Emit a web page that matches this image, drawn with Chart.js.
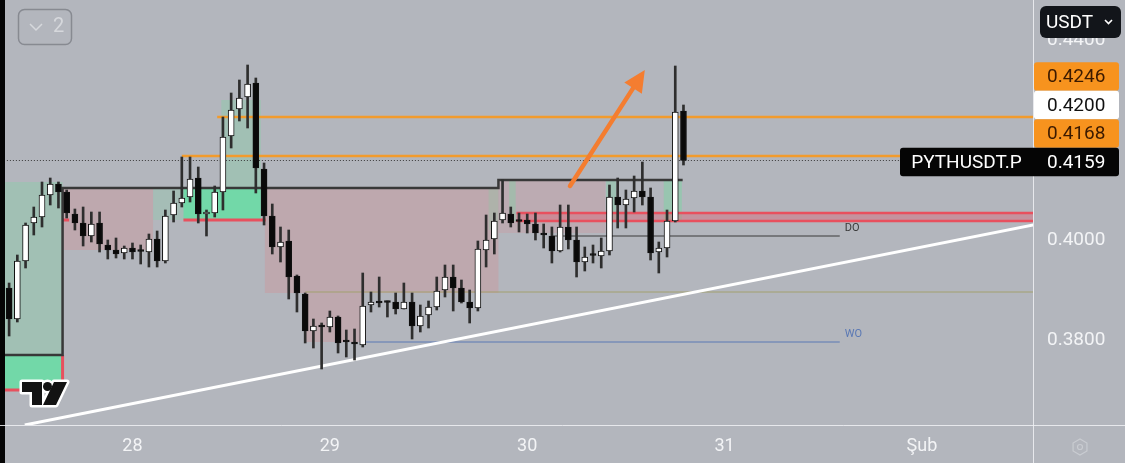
<!DOCTYPE html>
<html>
<head>
<meta charset="utf-8">
<script src="https://cdn.jsdelivr.net/npm/chart.js"></script>
<style>
  html, body { margin: 0; padding: 0; background: #b3b6bd; overflow: hidden; }
</style>
</head>
<body>
<canvas id="chart" width="1125" height="463"></canvas>
<script>
// PYTHUSDT.P, 1h candles from 27 Jan 09:00
const opens = [0.3904,0.3842,0.3958,0.4034,0.4046,0.4090,0.4112,0.4096,0.4052,0.4034,
  0.4008,0.4034,0.3990,0.3980,0.3974,0.3984,0.3978,0.3976,0.4002,0.3958,
  0.4050,0.4074,0.4086,0.4124,0.4052,0.4054,0.4096,0.4208,0.4262,0.4286,
  0.4314,0.4142,0.4048,0.3986,0.3998,0.3928,0.3892,0.3818,0.3828,0.3826,
  0.3846,0.3798,0.3796,0.3790,0.3870,0.3878,0.3876,0.3876,0.3862,0.3876,
  0.3828,0.3850,0.3866,0.3900,0.3926,0.3904,0.3876,0.3864,0.3980,0.4002,
  0.4040,0.4052,0.4038,0.4040,0.4032,0.4014,0.4008,0.3978,0.4026,0.4000,
  0.3956,0.3970,0.3968,0.3978,0.4086,0.4070,0.4084,0.4098,0.4086,0.3976,
  0.3984,0.4038,0.4258];
const highs = [0.3914,0.3970,0.4034,0.4066,0.4116,0.4124,0.4116,0.4100,0.4062,0.4066,
  0.4056,0.4056,0.4000,0.4004,0.3988,0.3994,0.3990,0.4012,0.4018,0.4060,
  0.4098,0.4166,0.4166,0.4146,0.4060,0.4108,0.4246,0.4294,0.4320,0.4350,
  0.4324,0.4154,0.4072,0.4026,0.4020,0.3930,0.3894,0.3842,0.3834,0.3858,
  0.3848,0.3820,0.3822,0.3934,0.3896,0.3926,0.3878,0.3894,0.3914,0.3894,
  0.3870,0.3878,0.3926,0.3950,0.3950,0.3920,0.3900,0.3998,0.4050,0.4054,
  0.4120,0.4066,0.4054,0.4052,0.4054,0.4032,0.4026,0.4070,0.4070,0.4026,
  0.3986,0.3990,0.4004,0.4110,0.4124,0.4100,0.4128,0.4156,0.4104,0.3996,
  0.4060,0.4348,0.4270];
const lows = [0.3808,0.3836,0.3944,0.4010,0.4026,0.4070,0.4064,0.4044,0.4020,0.3988,
  0.3996,0.3976,0.3962,0.3964,0.3962,0.3962,0.3952,0.3946,0.3946,0.3954,
  0.4036,0.4066,0.4076,0.4034,0.4008,0.4046,0.4060,0.4184,0.4238,0.4224,
  0.4094,0.4030,0.3972,0.3956,0.3882,0.3856,0.3794,0.3784,0.3742,0.3816,
  0.3774,0.3766,0.3760,0.3786,0.3856,0.3866,0.3846,0.3852,0.3862,0.3802,
  0.3816,0.3824,0.3860,0.3886,0.3858,0.3874,0.3834,0.3858,0.3946,0.3972,
  0.4034,0.4026,0.4016,0.4014,0.4000,0.3984,0.3954,0.3976,0.3982,0.3926,
  0.3938,0.3954,0.3944,0.3970,0.4024,0.4024,0.4056,0.4070,0.3960,0.3934,
  0.3966,0.4036,0.4150];
const closes = [0.3842,0.3958,0.4030,0.4046,0.4090,0.4112,0.4096,0.4054,0.4034,0.4008,
  0.4032,0.3992,0.3980,0.3972,0.3984,0.3976,0.3977,0.4002,0.3958,0.4048,
  0.4074,0.4084,0.4122,0.4052,0.4056,0.4096,0.4206,0.4260,0.4284,0.4312,
  0.4144,0.4048,0.3986,0.3996,0.3926,0.3894,0.3818,0.3828,0.3826,0.3846,
  0.3794,0.3796,0.3792,0.3868,0.3876,0.3874,0.3875,0.3862,0.3876,0.3828,
  0.3848,0.3866,0.3898,0.3926,0.3904,0.3876,0.3864,0.3982,0.4000,0.4038,
  0.4054,0.4034,0.4037,0.4032,0.4014,0.4010,0.3978,0.4026,0.4000,0.3956,
  0.3966,0.3969,0.3978,0.4086,0.4070,0.4082,0.4098,0.4086,0.3974,0.3984,
  0.4038,0.4256,0.4159];

const dayIndex = [15, 39, 63, 87, 111];
const dayLabels = ['28', '29', '30', '31', 'Şub'];
const priceTicks = [0.38, 0.40, 0.42, 0.44];
const levelPrices = [0.4246, 0.4168];
const lastPrice = 0.4159;
const axisMarks = ['0.4246', '0.4200', '0.4168', '0.4159'];
const symbol = 'PYTHUSDT.P';
const slotCount = 125;

// hourly slot labels, empty future slots on the right
const slots = [];
for (let k = 0; k < slotCount; k++) {
  const d = new Date(Date.UTC(2024, 0, 27, 9 + k));
  slots.push(d.toISOString().slice(5, 13));
}
const bodies = opens.map((o, k) => [o, closes[k]]);
const wicks = lows.map((l, k) => [l, highs[k]]);
const bodyColors = opens.map((o, k) => closes[k] >= o ? '#ffffff' : '#0a0a0a');

const FONT = 'Roboto, "Noto Sans", sans-serif';

function X(c, i) { return c.scales.x.getPixelForValue(i); }
function Y(c, p) { return c.scales.y.getPixelForValue(p); }
function box(ctx, c, i0, i1, p0, p1, color) {
  const x0 = X(c, i0), x1 = X(c, i1), y0 = Y(c, p0), y1 = Y(c, p1);
  ctx.fillStyle = color;
  ctx.fillRect(x0, Math.min(y0, y1), x1 - x0, Math.abs(y1 - y0));
}
function path(ctx, c, pts, color, w, dash) {
  ctx.beginPath();
  pts.forEach(([i, p], k) => k ? ctx.lineTo(X(c, i), Y(c, p)) : ctx.moveTo(X(c, i), Y(c, p)));
  ctx.strokeStyle = color;
  ctx.lineWidth = w;
  ctx.setLineDash(dash || []);
  ctx.stroke();
  ctx.setLineDash([]);
}
function rrect(ctx, x, y, w, h, r) {
  ctx.beginPath();
  ctx.moveTo(x + r, y);
  ctx.arcTo(x + w, y, x + w, y + h, r);
  ctx.arcTo(x + w, y + h, x, y + h, r);
  ctx.arcTo(x, y + h, x, y, r);
  ctx.arcTo(x, y, x + w, y, r);
  ctx.closePath();
}

const drawings = {
  id: 'drawings',
  beforeDraw(c) {
    const ctx = c.ctx;
    ctx.save();
    ctx.fillStyle = '#b3b6bd';
    ctx.fillRect(0, 0, c.width, c.height);
    ctx.fillStyle = '#050505';
    ctx.fillRect(0, 0, 5, c.height);
    ctx.restore();
  },
  beforeDatasetsDraw(c) {
    const ctx = c.ctx, a = c.chartArea;
    ctx.save();
    ctx.beginPath();
    ctx.rect(a.left, a.top, a.right - a.left, a.bottom - a.top);
    ctx.clip();

    const paleGreen = 'rgba(120,215,160,0.30)';
    const green = '#72d8a8';
    const pink = 'rgba(214,140,146,0.33)';
    const red = '#e8505e';

    // zones
    box(ctx, c, -1, 6.5, 0.4116, 0.377, paleGreen);
    box(ctx, c, -1, 6.5, 0.377, 0.370, green);
    box(ctx, c, 6.5, 17.5, 0.4104, 0.3980, pink);
    box(ctx, c, 17.5, 21.2, 0.4104, 0.4040, 'rgba(120,215,160,0.22)');
    box(ctx, c, 21.2, 30.6, 0.4104, 0.4040, green);
    box(ctx, c, 25.8, 30.6, 0.4280, 0.4104, paleGreen);
    box(ctx, c, 31.1, 59.5, 0.4104, 0.3894, pink);
    box(ctx, c, 36, 43, 0.3894, 0.3796, pink);
    box(ctx, c, 58.3, 59.5, 0.4104, 0.4020, 'rgba(120,215,160,0.22)');
    box(ctx, c, 59.5, 72.5, 0.4120, 0.4014, 'rgba(214,140,146,0.25)');
    box(ctx, c, 60.8, 61.6, 0.4120, 0.4038, 'rgba(120,215,160,0.35)');
    box(ctx, c, 72.6, 73.8, 0.4120, 0.4038, 'rgba(120,215,160,0.35)');
    box(ctx, c, 79.6, 81.8, 0.4120, 0.4038, 'rgba(120,215,160,0.45)');

    // red band
    box(ctx, c, 61.7, 140, 0.4054, 0.4038, 'rgba(232,80,100,0.35)');
    path(ctx, c, [[61.7, 0.4054], [140, 0.4054]], red, 2.5);
    path(ctx, c, [[61.7, 0.4038], [140, 0.4038]], red, 2.5);

    // red edges
    path(ctx, c, [[-1, 0.370], [6.5, 0.370], [6.5, 0.377]], red, 3);
    path(ctx, c, [[6.5, 0.4040], [7.3, 0.4040]], red, 3);
    path(ctx, c, [[21.2, 0.4040], [31.2, 0.4040]], red, 3);

    // dark range line
    path(ctx, c, [[-1, 0.377], [6.5, 0.377], [6.5, 0.4104], [59.5, 0.4104], [59.5, 0.4120], [81.9, 0.4120]], '#383838', 2.5);

    // level lines
    path(ctx, c, [[25.3, levelPrices[0]], [140, levelPrices[0]]], '#f29b2c', 2.5);
    path(ctx, c, [[21.0, levelPrices[1]], [140, levelPrices[1]]], '#f29b2c', 2.5);
    path(ctx, c, [[-1, lastPrice], [140, lastPrice]], '#3a3a3a', 1, [1, 2]);
    path(ctx, c, [[36, 0.3896], [140, 0.3896]], '#a2a06e', 1);
    path(ctx, c, [[43, 0.3796], [101, 0.3796]], '#5a78b4', 1);
    path(ctx, c, [[66, 0.4008], [101, 0.4008]], '#3a3a3a', 1);

    // trend line
    path(ctx, c, [[1.9, 0.363], [130, 0.4048]], '#ffffff', 3);
    ctx.restore();
  },
  afterDatasetsDraw(c) {
    const ctx = c.ctx;
    ctx.save();
    // arrow
    const x0 = X(c, 68.2), y0 = Y(c, 0.4108), x1 = X(c, 77.3), y1 = Y(c, 0.434);
    const ang = Math.atan2(y1 - y0, x1 - x0);
    const hl = 24;
    ctx.strokeStyle = '#f47d30';
    ctx.fillStyle = '#f47d30';
    ctx.lineWidth = 4.5;
    ctx.lineCap = 'round';
    ctx.beginPath();
    ctx.moveTo(x0, y0);
    ctx.lineTo(x1 - Math.cos(ang) * hl * 0.8, y1 - Math.sin(ang) * hl * 0.8);
    ctx.stroke();
    ctx.beginPath();
    ctx.moveTo(x1, y1);
    ctx.lineTo(x1 - Math.cos(ang - 0.45) * hl, y1 - Math.sin(ang - 0.45) * hl);
    ctx.lineTo(x1 - Math.cos(ang + 0.45) * hl, y1 - Math.sin(ang + 0.45) * hl);
    ctx.closePath();
    ctx.fill();

    // DO / WO
    ctx.font = '11px ' + FONT;
    ctx.textBaseline = 'middle';
    ctx.textAlign = 'left';
    ctx.fillStyle = '#3a3a3a';
    ctx.fillText('DO', X(c, 101.6), Y(c, 0.4024));
    ctx.fillStyle = '#5a78b4';
    ctx.fillText('WO', X(c, 101.6), Y(c, 0.3812));

    // TV logo
    ctx.lineJoin = 'round';
    ctx.beginPath();
    ctx.moveTo(22, 382); ctx.lineTo(42, 382); ctx.lineTo(42, 405); ctx.lineTo(32, 405);
    ctx.lineTo(32, 392); ctx.lineTo(22, 392); ctx.closePath();
    ctx.moveTo(54, 382); ctx.lineTo(67, 382); ctx.lineTo(56, 405); ctx.lineTo(43, 405); ctx.closePath();
    ctx.strokeStyle = '#ffffff';
    ctx.lineWidth = 5;
    ctx.stroke();
    ctx.beginPath();
    ctx.arc(47.5, 386.5, 4.5, 0, Math.PI * 2);
    ctx.stroke();
    ctx.fillStyle = '#131313';
    ctx.beginPath();
    ctx.moveTo(22, 382); ctx.lineTo(42, 382); ctx.lineTo(42, 405); ctx.lineTo(32, 405);
    ctx.lineTo(32, 392); ctx.lineTo(22, 392); ctx.closePath();
    ctx.moveTo(54, 382); ctx.lineTo(67, 382); ctx.lineTo(56, 405); ctx.lineTo(43, 405); ctx.closePath();
    ctx.fill();
    ctx.beginPath();
    ctx.arc(47.5, 386.5, 4.5, 0, Math.PI * 2);
    ctx.fill();
    ctx.restore();
  },
  afterDraw(c) {
    const ctx = c.ctx, a = c.chartArea;
    ctx.save();
    // separators
    ctx.strokeStyle = 'rgba(240,241,244,0.85)';
    ctx.lineWidth = 1;
    ctx.beginPath();
    ctx.moveTo(Math.round(a.right) + 0.5, 0); ctx.lineTo(Math.round(a.right) + 0.5, c.height);
    ctx.moveTo(0, Math.round(a.bottom) + 0.5); ctx.lineTo(c.width, Math.round(a.bottom) + 0.5);
    ctx.stroke();

    // price marks, stacked upward from the last price
    const h = 28.5, bx = a.right + 1, bw = 85;
    const yLast = Y(c, lastPrice) + 1.5;
    const styles = [
      { bg: '#f7931e', fg: '#3b1a00' },
      { bg: '#ffffff', fg: '#111111' },
      { bg: '#f7931e', fg: '#3b1a00' },
      { bg: '#050505', fg: '#ffffff' }
    ];
    ctx.font = '19px ' + FONT;
    ctx.textBaseline = 'middle';
    axisMarks.forEach((t, k) => {
      const cy = yLast - (axisMarks.length - 1 - k) * h;
      ctx.fillStyle = styles[k].bg;
      if (k === axisMarks.length - 1) {
        rrect(ctx, 900, cy - h / 2, bx + bw - 900, h, 3);
        ctx.fill();
        ctx.fillStyle = '#ffffff';
        ctx.textAlign = 'center';
        ctx.fillText(symbol, (900 + a.right) / 2, cy + 1);
      } else {
        rrect(ctx, bx, cy - h / 2, bw, h, 3);
        ctx.fill();
      }
      ctx.fillStyle = styles[k].fg;
      ctx.textAlign = 'left';
      ctx.fillText(t, 1047, cy + 1);
    });

    // currency button
    ctx.fillStyle = '#12151a';
    rrect(ctx, 1040, 6, 81, 32, 6);
    ctx.fill();
    ctx.fillStyle = '#ffffff';
    ctx.textAlign = 'left';
    ctx.fillText('USDT', 1046, 23);
    ctx.strokeStyle = '#ffffff';
    ctx.lineWidth = 1.6;
    ctx.beginPath();
    ctx.moveTo(1105, 20); ctx.lineTo(1108.5, 23.5); ctx.lineTo(1112, 20);
    ctx.stroke();

    // collapse button top-left
    ctx.strokeStyle = '#878a91';
    ctx.lineWidth = 1.5;
    rrect(ctx, 18.5, 9.5, 53, 35, 6);
    ctx.stroke();
    ctx.strokeStyle = '#d6d8dc';
    ctx.beginPath();
    ctx.moveTo(30, 24); ctx.lineTo(36, 30); ctx.lineTo(42, 24);
    ctx.stroke();
    ctx.fillStyle = '#d6d8dc';
    ctx.font = '20px ' + FONT;
    ctx.fillText('2', 53, 27);

    // settings icon
    const sx = 1080, sy = 447, r = 8;
    ctx.strokeStyle = '#c9ccd1';
    ctx.lineWidth = 1.2;
    ctx.beginPath();
    for (let k = 0; k < 6; k++) {
      const an = Math.PI / 6 + k * Math.PI / 3;
      const px = sx + Math.cos(an) * r, py = sy + Math.sin(an) * r;
      k ? ctx.lineTo(px, py) : ctx.moveTo(px, py);
    }
    ctx.closePath();
    ctx.stroke();
    ctx.beginPath();
    ctx.arc(sx, sy, 2.5, 0, Math.PI * 2);
    ctx.stroke();
    ctx.restore();
  }
};

new Chart(document.getElementById('chart'), {
  type: 'bar',
  data: {
    labels: slots,
    datasets: [
      {
        label: 'wick',
        data: wicks,
        backgroundColor: '#2e2e2e',
        barThickness: 2,
        grouped: false,
        order: 2
      },
      {
        label: 'body',
        data: bodies,
        backgroundColor: bodyColors,
        borderColor: '#111111',
        borderWidth: 1,
        borderSkipped: false,
        barThickness: 6,
        minBarLength: 2,
        grouped: false,
        order: 1
      }
    ]
  },
  options: {
    responsive: false,
    animation: false,
    devicePixelRatio: 1,
    layout: { padding: { left: 5, right: 0, top: 0, bottom: 0 } },
    plugins: { legend: { display: false }, tooltip: { enabled: false } },
    scales: {
      x: {
        offset: true,
        grid: { display: false, drawTicks: false },
        border: { display: false },
        ticks: {
          autoSkip: false,
          maxRotation: 0,
          padding: 11,
          color: '#f3f4f6',
          font: { family: FONT, size: 18 },
          callback: (v, idx) => {
            const k = dayIndex.indexOf(idx);
            return k >= 0 ? dayLabels[k] : '';
          }
        },
        afterFit: s => { s.height = 38; s.paddingLeft = 0; s.paddingRight = 0; }
      },
      y: {
        position: 'right',
        min: 0.363,
        max: 0.448,
        grid: { display: false, drawTicks: false },
        border: { display: false },
        afterBuildTicks: s => { s.ticks = priceTicks.map(v => ({ value: v })); },
        ticks: {
          padding: 14,
          color: '#f3f4f6',
          font: { family: FONT, size: 19 },
          callback: v => v.toFixed(4)
        },
        afterFit: s => { s.width = 92; s.paddingTop = 0; s.paddingBottom = 0; }
      }
    }
  },
  plugins: [drawings]
});
</script>
</body>
</html>
